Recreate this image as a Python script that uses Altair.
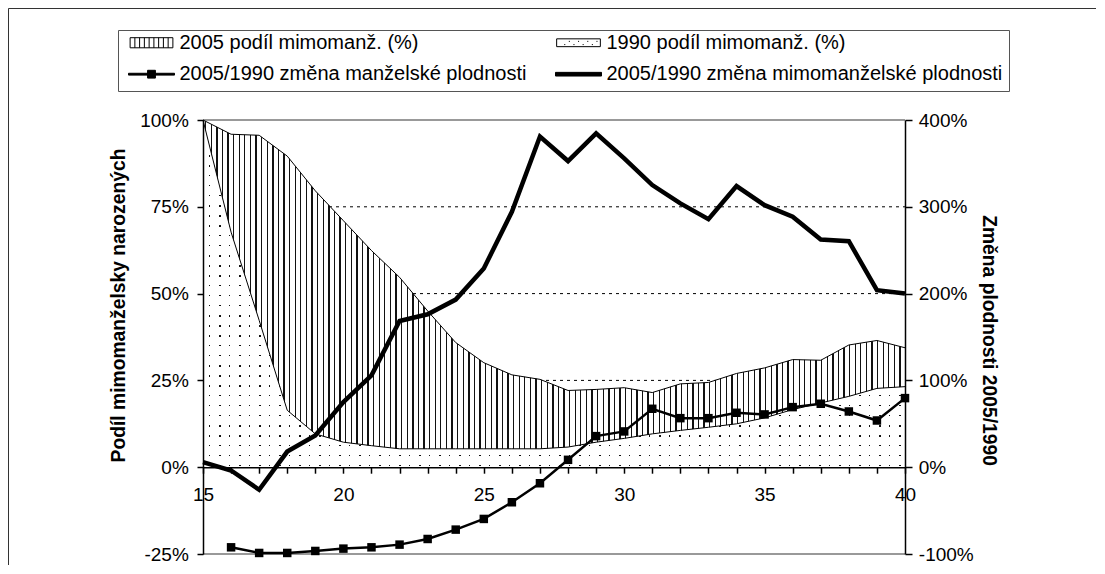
import altair as alt
import pandas as pd

# ---------------- data ----------------
ages = list(range(15, 41))
share_2005 = [100, 95.9, 95.6, 89.6, 79.6, 71.0, 62.4, 54.7, 45.0, 35.9, 30.1, 26.6, 25.3,
              22.1, 22.4, 22.9, 21.5, 24.0, 24.4, 27.0, 28.6, 31.0, 30.8, 35.2, 36.5, 34.4]
share_1990 = [100, 67.7, 42.3, 16.4, 9.6, 7.2, 6.2, 5.3, 5.3, 5.3, 5.3, 5.3, 5.3,
              5.8, 7.2, 8.3, 9.6, 10.6, 11.5, 12.5, 14.2, 16.6, 18.5, 20.4, 22.7, 23.2]
marital_change = [None, -92.3, -98.8, -98.8, -96.5, -93.8, -92.3, -89.2, -82.7, -71.9, -59.6,
                  -40.4, -18.5, 8.5, 35.8, 41.2, 67.3, 56.5, 56.5, 62.7, 60.8, 69.2, 73.1,
                  64.2, 53.8, 79.6]
nonmarital_change = [5.8, -3.8, -26.0, 18.0, 36.5, 75.0, 105.8, 168.5, 176.2, 193.1, 228.9,
                     294.2, 381.0, 352.7, 384.6, 355.8, 325.0, 303.9, 285.8, 323.9, 301.9,
                     288.5, 262.3, 260.4, 203.9, 200.0]

# legend order is column-major: column 1 = first two, column 2 = last two
legend_labels = ["2005 podíl mimomanž. (%)",
                 "2005/1990 změna manželské plodnosti",
                 "1990 podíl mimomanž. (%)",
                 "2005/1990 změna mimomanželské plodnosti"]

left_ticks = [-25, 0, 25, 50, 75, 100]
right_ticks = [-100, 0, 100, 200, 300, 400]
dashed_grid = [25, 50, 75]
border_lines = [100, -25]

# ---------------- layout / style (view coords = page - 8) ----------------
FONT = "Liberation Sans"
W, H = 1088, 557
X0, X1 = 195, 897
Y_TOP, Y_BOT = 112, 546
Y_ZERO = Y_BOT - (Y_BOT - Y_TOP) * 25 / 125


def stripe_stops(total, period, line, on, off, phase=0.0):
    stops = []
    pos = phase - period
    while pos < total:
        a = max(pos, 0) / total
        b = min(max(pos + line, 0), total) / total
        c = min(max(pos + period, 0), total) / total
        stops += [{"offset": round(a, 5), "color": on},
                  {"offset": round(b, 5), "color": on},
                  {"offset": round(b, 5), "color": off},
                  {"offset": round(c, 5), "color": off}]
        pos += period
    return stops


hatch_fill = {"gradient": "linear", "x1": 0, "y1": 0, "x2": 1, "y2": 0,
              "stops": stripe_stops(X1 - X0, 5.6, 1.3, "#111111", "white", phase=2)}
rows_fill = {"gradient": "linear", "x1": 0, "y1": 0, "x2": 0, "y2": 1,
             "stops": stripe_stops(Y_ZERO - Y_TOP, 10, 1.5, "#111111", "white", phase=5)}
cols_fill = {"gradient": "linear", "x1": 0, "y1": 0, "x2": 1, "y2": 0,
             "stops": stripe_stops(X1 - X0, 10, 1.5, "rgba(255,255,255,0)", "white", phase=6)}

# legend symbol paths (unit box [-1,1] = symbol width)
hatch_path = "M-0.93,-0.22H0.93V0.22H-0.93Z" + "".join(
    f" M{-0.93 + k * 0.2067:.3f},-0.22V0.22" for k in range(1, 9))
dots_path = "M-0.95,-0.17H0.95V0.17H-0.95Z" + "".join(
    f" M{x:.2f},{y:.2f}h0.045" for x, y in
    [(-0.62, 0.08), (-0.22, 0.08), (0.18, 0.08), (0.58, 0.08),
     (-0.42, -0.06), (-0.02, -0.06), (0.38, -0.06), (0.78, -0.06)])
marital_path = "M-1,-0.04H1V0.04H-1Z M-0.17,-0.17H0.17V0.17H-0.17Z"
thick_path = "M-1,-0.08H1V0.08H-1Z"

df = pd.DataFrame({"age": ages, "s2005": share_2005, "s1990": share_1990,
                   "marital": marital_change, "nonmarital": nonmarital_change})
grid_df = pd.DataFrame({"y": dashed_grid, "x0": ages[0], "x1": ages[-1]})
border_df = pd.DataFrame({"y": border_lines, "x0": ages[0], "x1": ages[-1]})
legend_df = pd.DataFrame({"series": legend_labels, "lx": [None] * 4, "ly": [None] * 4})
frame_df = pd.DataFrame({"fx": [None], "fy": [None]})

x_scale = alt.Scale(domain=[ages[0], ages[-1]], range=[X0, X1], nice=False, zero=False)
yl_scale = alt.Scale(domain=[left_ticks[0], left_ticks[-1]], range=[Y_BOT, Y_TOP], nice=False, zero=False)
yr_scale = alt.Scale(domain=[right_ticks[0], right_ticks[-1]], range=[Y_BOT, Y_TOP], nice=False, zero=False)

x_axis = alt.Axis(orient="bottom", offset=Y_ZERO - H, values=ages,
                  labelExpr="datum.value % 5 == 0 ? '' + datum.value : ''",
                  title=None, grid=False, tickSize=6, tickWidth=1.5, tickColor="black",
                  domainColor="black", domainWidth=1.5, labelFont=FONT, labelFontSize=19,
                  labelColor="black", labelPadding=12.4, labelOverlap=False, labelFlush=False,
                  labelBaseline="top", zindex=1)
left_axis = alt.Axis(orient="left", offset=-X0, values=left_ticks,
                     labelExpr="datum.value + '%'", title="Podíl mimomanželsky narozených",
                     titleFont=FONT, titleFontSize=19.3, titleFontWeight="bold", titleColor="black",
                     titleAngle=-90, titleX=-79, titleY=297, titleAlign="center",
                     titleBaseline="alphabetic", grid=False, tickSize=6, tickWidth=1.5,
                     tickColor="black", domainColor="black", domainWidth=1.5, labelFont=FONT,
                     labelFontSize=19, labelColor="black", labelPadding=8.7, zindex=1)
right_axis = alt.Axis(orient="right", offset=X1 - W, values=right_ticks,
                      labelExpr="datum.value + '%'", title="Změna plodnosti 2005/1990",
                      titleFont=FONT, titleFontSize=19.3, titleFontWeight="bold", titleColor="black",
                      titleAngle=90, titleX=77, titleY=332, titleAlign="center",
                      titleBaseline="alphabetic", grid=False, tickSize=7, tickWidth=1.5,
                      tickColor="black", domainColor="black", domainWidth=1.5, labelFont=FONT,
                      labelFontSize=19, labelColor="black", labelPadding=6.3, zindex=1)

X = alt.X("age:Q", scale=x_scale, axis=x_axis)

grid = alt.Chart(grid_df).mark_rule(color="black", strokeWidth=1, strokeDash=[3, 4]).encode(
    x=alt.X("x0:Q", scale=x_scale, axis=x_axis), x2="x1:Q",
    y=alt.Y("y:Q", scale=yl_scale, axis=left_axis))
border = alt.Chart(border_df).mark_rule(color="#777777", strokeWidth=1.5).encode(
    x=alt.X("x0:Q", scale=x_scale, axis=x_axis), x2="x1:Q",
    y=alt.Y("y:Q", scale=yl_scale, axis=left_axis))

base = alt.Chart(df)
dots_a = base.mark_area(fill=rows_fill, opacity=1).encode(
    x=X, y=alt.Y("s1990:Q", scale=yl_scale, axis=left_axis))
dots_b = base.mark_area(fill=cols_fill, opacity=1).encode(
    x=X, y=alt.Y("s1990:Q", scale=yl_scale, axis=left_axis))
hatch = base.mark_area(fill=hatch_fill, opacity=1).encode(
    x=X, y=alt.Y("s2005:Q", scale=yl_scale, axis=left_axis), y2="s1990:Q")
out2005 = base.mark_line(color="black", strokeWidth=1).encode(
    x=X, y=alt.Y("s2005:Q", scale=yl_scale, axis=left_axis))
out1990 = base.mark_line(color="black", strokeWidth=1).encode(
    x=X, y=alt.Y("s1990:Q", scale=yl_scale, axis=left_axis))

marital = base.mark_line(color="black", strokeWidth=2.5,
                         point=alt.OverlayMarkDef(shape="square", size=72, filled=True,
                                                  color="black", opacity=1)).encode(
    x=X, y=alt.Y("marital:Q", scale=yr_scale, axis=right_axis))
nonmarital = base.mark_line(color="black", strokeWidth=4.5).encode(
    x=X, y=alt.Y("nonmarital:Q", scale=yr_scale, axis=right_axis))

leg = alt.Legend(orient="none", legendX=118 - 8, legendY=30 - 8,
                 direction="vertical", columns=2,
                 title=None, symbolSize=2116, clipHeight=13, labelFont=FONT, labelFontSize=20,
                 labelColor="black", labelOffset=4.5, symbolOffset=4, labelLimit=600,
                 rowPadding=10.7, columnPadding=24, padding=6, strokeColor="#555555",
                 fillColor="white", symbolStrokeColor="black", symbolStrokeWidth=1,
                 symbolOpacity=1)
legend_pts = alt.Chart(legend_df).mark_point(filled=True, opacity=1).encode(
    x=alt.X("lx:Q", scale=x_scale, axis=x_axis),
    y=alt.Y("ly:Q", scale=yr_scale, axis=right_axis),
    shape=alt.Shape("series:N", scale=alt.Scale(domain=legend_labels,
                    range=[hatch_path, marital_path, dots_path, thick_path]), legend=leg),
    fill=alt.Fill("series:N", scale=alt.Scale(domain=legend_labels,
                  range=["transparent", "black", "transparent", "black"]), legend=leg),
    stroke=alt.Stroke("series:N", scale=alt.Scale(domain=legend_labels,
                      range=["black", "black", "black", "black"]), legend=leg),
)

# outer chart frame (top and left edges) drawn as axis domain lines
frame_x_axis = alt.Axis(orient="top", offset=0, labels=False, ticks=False, grid=False,
                        title=None, domainColor="#333333", domainWidth=1)
frame_y_axis = alt.Axis(orient="left", offset=0, labels=False, ticks=False, grid=False,
                        title=None, domainColor="#333333", domainWidth=1)
frame = alt.Chart(frame_df).mark_point(opacity=0).encode(
    x=alt.X("fx:Q", scale=alt.Scale(domain=[0, 1], range=[0, W + 20], nice=False, zero=False),
            axis=frame_x_axis),
    y=alt.Y("fy:Q", scale=alt.Scale(domain=[0, 1], range=[H + 20, 0], nice=False, zero=False),
            axis=frame_y_axis))

left_layer = alt.layer(grid, border, dots_a, dots_b, hatch, out2005, out1990)
right_layer = alt.layer(marital, nonmarital, legend_pts)
main = alt.layer(left_layer, right_layer).resolve_scale(y="independent")

chart = (alt.layer(frame, main)
         .resolve_scale(x="independent", y="independent")
         .properties(width=W, height=H, padding=0, autosize="none")
         .configure_view(stroke="transparent", strokeWidth=0)
         .configure(font=FONT))

chart.save("out.html", embed_options={"renderer": "svg", "actions": False})
